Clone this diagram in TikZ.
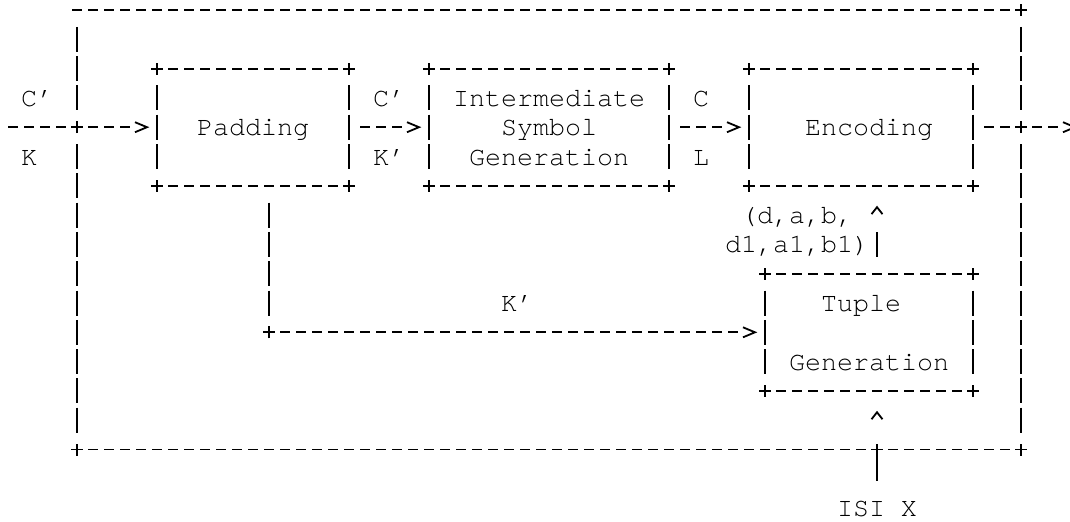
\documentclass[tikz,border=0pt]{standalone}
\usepackage{fontspec}
\setmonofont{TeX Gyre Cursor}
\usepackage{tikz}
\tikzset{
    ascii/.style={line width=1.35pt, line cap=butt},
    hline/.style={ascii, dash pattern=on 7.5pt off 4.5pt, dash phase=9.75pt, shorten <=6pt, shorten >=6pt},
    harrow/.style={hline, shorten >=18pt},
    vline/.style={ascii, dash pattern=on 18.75pt off 3.225pt, dash phase=20.3625pt, shorten <=10.99pt, shorten >=10.99pt},
    stem/.style={ascii, dash pattern=on 18.75pt off 45pt, dash phase=62.1375pt, shorten <=10.99pt, shorten >=16pt},
    blk/.style 2 args={minimum width=#1*12pt, minimum height=#2*21.975pt, inner sep=0pt, outer sep=0pt},
    lbl/.style={font=\ttfamily\fontsize{20}{24}\selectfont, inner sep=0pt, text height=14pt, text depth=1.2pt}
}
\newcommand{\crossAt}[1]{
\draw[ascii] (#1) ++(-4.5pt,0) -- ++(9pt,0) (#1) ++(0,-4.5pt) -- ++(0,9pt);
}
\newcommand{\tipRight}[1]{
\draw[ascii] (#1) ++(-9pt,3.75pt) -- ++(9pt,-3.75pt) -- ++(-9pt,-3.75pt);
}
\newcommand{\tipUp}[1]{
\draw[ascii] (#1) ++(-4.1pt,-5.25pt) -- ++(4.1pt,5.25pt) -- ++(4.1pt,-5.25pt);
}
\newcommand{\asciiBox}[1]{
\draw[hline] (#1.north west) -- (#1.north east);
\draw[hline] (#1.south west) -- (#1.south east);
\draw[vline] (#1.north west) -- (#1.south west);
\draw[vline] (#1.north east) -- (#1.south east);
\foreach \c in {north west,north east,south west,south east} {\crossAt{#1.\c}}
}

\begin{document}
\begin{tikzpicture}[x=12pt, y=-21.975pt]
    \useasboundingbox (-0.8125,0.6587) rectangle (66.0625,18.474);
    % Blocks
    \node[blk={12}{4}] (pad) at (15,5) {};
    \node[blk={15}{4}] (isg) at (33.5,5) {};
    \node[blk={14}{4}] (enc) at (53,5) {};
    \node[blk={13}{4}] (tup) at (53.5,12) {};
    \node[blk={59}{15}] (frame) at (33.5,8.5) {};
    \asciiBox{pad}
    \asciiBox{isg}
    \asciiBox{enc}
    \asciiBox{tup}
    % Texts
    \node[lbl] (tPad) at (pad) {Padding};
    \node[lbl] (tInt) at (33.5,4) {Intermediate};
    \node[lbl] (tSym) at (isg) {Symbol};
    \node[lbl] (tGen) at (33.5,6) {Generation};
    \node[lbl] (tEnc) at (53.5,5) {Encoding};
    \node[lbl] (tTup) at (53,11) {Tuple};
    \node[lbl] (tTupGen) at (53.5,13) {Generation};
    \node[lbl] (inC) at (1.5,4) {C’};
    \node[lbl] (inK) at (1,6) {K};
    \node[lbl] (padC) at (23.5,4) {C’};
    \node[lbl] (padK) at (23.5,6) {K’};
    \node[lbl] (isgC) at (43,4) {C};
    \node[lbl] (isgL) at (43,6) {L};
    \node[lbl] (tupK) at (31.5,11) {K’};
    \node[lbl] (tupA) at (49,8) {(d,a,b,};
    \node[lbl] (tupB) at (49,9) {d1,a1,b1)};
    \node[lbl] (isi) at (54,18) {ISI X};
    % Frame
    \coordinate (inL) at (frame.west |- pad);
    \coordinate (outR) at (frame.east |- enc);
    \coordinate (isiCross) at (frame.south -| isi);
    \draw[hline, shorten <=0pt] ([xshift=-6pt]frame.north west) -- (frame.north east);
    \draw[hline] (frame.south west) -- (frame.south east);
    \draw[vline] (frame.north west) -- (inL);
    \draw[vline] (inL) -- (frame.south west);
    \draw[vline] (frame.north east) -- (outR);
    \draw[vline] (outR) -- (frame.south east);
    \crossAt{frame.north east}
    \crossAt{frame.south west}
    \crossAt{frame.south east}
    \crossAt{inL}
    \crossAt{outR}
    \crossAt{isiCross}
    % Arrows
    \coordinate (in) at (-0.5,5);
    \coordinate (out) at (67,5);
    \draw[harrow, shorten <=0pt] (in) -- (pad.west);
    \tipRight{[xshift=-7.5pt]pad.west}
    \draw[harrow] (pad.east) -- (isg.west);
    \tipRight{[xshift=-7.5pt]isg.west}
    \draw[harrow] (isg.east) -- (enc.west);
    \tipRight{[xshift=-7.5pt]enc.west}
    \draw[harrow] (enc.east) -- (out);
    \tipRight{[xshift=-7.5pt]out}
    \coordinate (bend) at (16,12);
    \draw[vline] (pad.south -| bend) -- (bend);
    \draw[harrow] (bend) -- (tup.west);
    \tipRight{[xshift=-7.5pt]tup.west}
    \crossAt{bend}
    \coordinate (tupOut) at (tup.north -| isi);
    \coordinate (encIn) at (enc.south -| isi);
    \coordinate (tupIn) at (tup.south -| isi);
    \draw[stem] (tupOut) -- (encIn);
    \tipUp{[yshift=-16pt]encIn}
    \draw[stem] (isi) -- (tupIn);
    \tipUp{[yshift=-16pt]tupIn}
\end{tikzpicture}
\end{document}
